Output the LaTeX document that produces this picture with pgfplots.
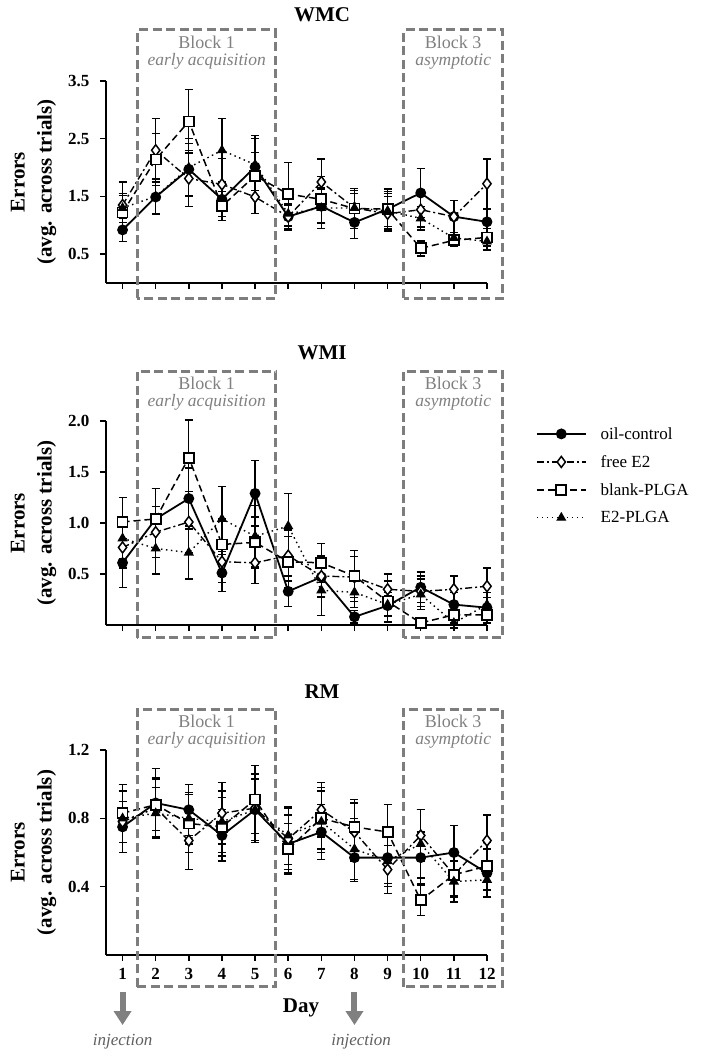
\documentclass[border=0pt]{standalone}
\usepackage{pgfplots}
\pgfplotsset{compat=1.18}
\usepackage{pgfplotstable}
\usepackage{fontspec}
\setmainfont{Liberation Serif}
\usetikzlibrary{arrows.meta}

\definecolor{boxgray}{RGB}{125,125,125}
\definecolor{txtgray}{RGB}{128,128,128}
\definecolor{injgray}{RGB}{95,95,95}

\pgfplotstableread{
day oil oilE fe feE bp bpE ep epE
1 0.92 0.20 1.35 0.40 1.22 0.30 1.30 0.25
2 1.49 0.30 2.30 0.55 2.14 0.45 1.50 0.30
3 1.97 0.45 1.81 0.48 2.80 0.55 2.00 0.50
4 1.45 0.30 1.71 0.45 1.33 0.25 2.30 0.55
5 2.01 0.55 1.49 0.28 1.86 0.40 2.05 0.45
6 1.15 0.23 1.15 0.20 1.54 0.55 1.20 0.25
7 1.33 0.30 1.75 0.40 1.45 0.40 1.30 0.35
8 1.05 0.28 1.30 0.25 1.29 0.35 1.30 0.30
9 1.28 0.30 1.20 0.30 1.28 0.35 1.25 0.30
10 1.56 0.42 1.27 0.30 0.60 0.13 1.12 0.20
11 1.15 0.28 1.15 0.28 0.74 0.10 0.78 0.10
12 1.06 0.22 1.72 0.43 0.79 0.15 0.72 0.15
}\wmctab

\pgfplotstableread{
day oil oilE fe feE bp bpE ep epE
1 0.61 0.24 0.76 0.20 1.01 0.24 0.85 0.20
2 1.04 0.30 0.91 0.25 1.04 0.30 0.75 0.25
3 1.24 0.30 1.01 0.30 1.64 0.37 0.71 0.26
4 0.51 0.18 0.62 0.20 0.79 0.25 1.04 0.32
5 1.29 0.32 0.61 0.20 0.81 0.25 0.87 0.30
6 0.33 0.15 0.68 0.25 0.62 0.25 0.97 0.32
7 0.47 0.20 0.48 0.20 0.61 0.19 0.34 0.25
8 0.08 0.06 0.47 0.20 0.48 0.25 0.32 0.15
9 0.19 0.10 0.35 0.15 0.23 0.20 0.20 0.12
10 0.37 0.15 0.33 0.15 0.02 0.03 0.30 0.15
11 0.20 0.12 0.35 0.13 0.10 0.08 0.02 0.05
12 0.17 0.10 0.38 0.18 0.10 0.08 0.20 0.12
}\wmitab

\pgfplotstableread{
day oil oilE fe feE bp bpE ep epE
1 0.75 0.15 0.78 0.18 0.83 0.17 0.80 0.20
2 0.89 0.20 0.86 0.18 0.88 0.15 0.83 0.15
3 0.85 0.15 0.67 0.17 0.77 0.17 0.80 0.15
4 0.70 0.15 0.83 0.18 0.75 0.17 0.78 0.18
5 0.85 0.18 0.86 0.20 0.91 0.20 0.85 0.18
6 0.65 0.17 0.68 0.18 0.62 0.15 0.70 0.17
7 0.72 0.16 0.85 0.16 0.80 0.18 0.78 0.18
8 0.57 0.14 0.72 0.17 0.75 0.16 0.62 0.18
9 0.57 0.15 0.50 0.14 0.72 0.16 0.55 0.15
10 0.57 0.15 0.70 0.15 0.32 0.09 0.65 0.20
11 0.60 0.16 0.47 0.13 0.47 0.12 0.43 0.12
12 0.48 0.14 0.67 0.15 0.52 0.14 0.44 0.10
}\rmtab

\tikzset{
  blk/.style={boxgray, line width=3pt, dash pattern=on 9pt off 4.5pt},
  btxt/.style={txtgray, align=center, anchor=north, inner sep=0pt,
    font=\fontsize{18}{17}\selectfont},
}
\newcommand{\blocktext}[2]{#1\\{\fontsize{17.5}{17}\itshape #2}}

\pgfplotsset{
  every axis title shift=0pt,
  panel/.style={
    scale only axis, width=381pt,
    xmin=0.5, xmax=12, ymin=0,
    axis x line*=bottom, axis y line*=left,
    xtick={1,...,12},
    tick align=outside, major tick length=6pt,
    tick style={line width=1.5pt, black},
    axis line style={line width=1.5pt},
    clip=false,
    /pgf/number format/assume math mode=true,
    tick label style={font=\bfseries\fontsize{17}{17}\selectfont},
    yticklabel style={xshift=-7pt, /pgf/number format/.cd, fixed, fixed zerofill, precision=1},
    xticklabel style={yshift=-4pt},
    title style={font=\bfseries\fontsize{21}{21}\selectfont, anchor=center, yshift=0pt},
    ylabel={Errors\\(avg. across trials)},
    ylabel style={font=\bfseries\fontsize{21}{27}\selectfont, align=center,
      at={(axis description cs:-0.19,0.5)}, anchor=center},
  },
  eb/.style={error bars/.cd, y dir=both, y explicit,
    error bar style={line width=1.3pt, solid, black},
    error mark options={rotate=90, line width=1.3pt, mark size=4pt, solid, black}},
  oil/.style={black, solid, line width=1.8pt, mark=*, mark size=4.5pt,
    mark options={solid, fill=black}},
  fe/.style={black, line width=1.4pt, dash pattern=on 7pt off 3pt on 2pt off 3pt,
    mark=diamond*, mark size=5.5pt, mark options={solid, fill=white, line width=1.5pt}},
  bp/.style={black, line width=1.5pt, dash pattern=on 7pt off 4pt,
    mark=square*, mark size=5pt, mark options={solid, fill=white, line width=1.8pt}},
  ep/.style={black, line width=1.4pt, dash pattern=on 1.5pt off 3.5pt,
    mark=triangle*, mark size=4.5pt, mark options={solid, fill=black}},
}

\begin{document}
\begin{tikzpicture}
\useasboundingbox (0,0) rectangle (702pt,-1059pt);

% ---------------- WMC ----------------
\begin{axis}[panel, at={(106pt,-283pt)}, anchor=south west, height=202pt,
  ymax=3.5, ytick={0.5,1.5,2.5,3.5}, xticklabels={},
  title={WMC}, title style={at={(axis description cs:0.567,1.327)}}]
\addplot[oil, eb] table[x=day, y=oil, y error=oilE] {\wmctab};
\addplot[fe, eb] table[x=day, y=fe, y error=feE] {\wmctab};
\addplot[bp, eb] table[x=day, y=bp, y error=bpE] {\wmctab};
\addplot[ep, eb] table[x=day, y=ep, y error=epE] {\wmctab};
\draw[blk] (axis cs:1.45,-0.26) rectangle (axis cs:5.62,4.384);
\draw[blk] (axis cs:9.49,-0.26) rectangle (axis cs:12.48,4.384);
\node[btxt, yshift=-6pt] at (axis cs:3.54,4.384) {\blocktext{Block 1}{early acquisition}};
\node[btxt, yshift=-6pt] at (axis cs:10.98,4.384) {\blocktext{Block 3}{asymptotic}};
\end{axis}

% ---------------- WMI ----------------
\begin{axis}[panel, at={(106pt,-625pt)}, anchor=south west, height=204pt,
  ymax=2.0, ytick={0.5,1.0,1.5,2.0}, xticklabels={},
  title={WMI}, title style={at={(axis description cs:0.567,1.333)}},
  legend style={at={(axis description cs:1.12,0.99)}, anchor=north west,
    draw=none, fill=none, font=\fontsize{17}{17}\selectfont,
    row sep=10.7pt, /tikz/every odd column/.append style={column sep=12pt}},
  legend cell align=left,
  legend image code/.code={\draw[mark repeat=2, mark phase=2, #1] plot coordinates {(0pt,0pt) (24.5pt,0pt) (49pt,0pt)};}]
\addplot[oil, eb] table[x=day, y=oil, y error=oilE] {\wmitab};
\addplot[fe, eb] table[x=day, y=fe, y error=feE] {\wmitab};
\addplot[bp, eb] table[x=day, y=bp, y error=bpE] {\wmitab};
\addplot[ep, eb] table[x=day, y=ep, y error=epE] {\wmitab};
\legend{oil-control, free E2, blank-PLGA, E2-PLGA}
\draw[blk] (axis cs:1.45,-0.127) rectangle (axis cs:5.62,2.49);
\draw[blk] (axis cs:9.49,-0.127) rectangle (axis cs:12.48,2.49);
\node[btxt, yshift=-6pt] at (axis cs:3.54,2.49) {\blocktext{Block 1}{early acquisition}};
\node[btxt, yshift=-6pt] at (axis cs:10.98,2.49) {\blocktext{Block 3}{asymptotic}};
\end{axis}

% ---------------- RM ----------------
\begin{axis}[panel, at={(106pt,-955pt)}, anchor=south west, height=205pt,
  ymax=1.2, ytick={0.4,0.8,1.2},
  xlabel={Day}, xlabel style={font=\bfseries\fontsize{21}{21}\selectfont,
    at={(axis description cs:0.512,-0.26)}, anchor=center},
  title={RM}, title style={at={(axis description cs:0.567,1.283)}}]
\addplot[oil, eb] table[x=day, y=oil, y error=oilE] {\rmtab};
\addplot[fe, eb] table[x=day, y=fe, y error=feE] {\rmtab};
\addplot[bp, eb] table[x=day, y=bp, y error=bpE] {\rmtab};
\addplot[ep, eb] table[x=day, y=ep, y error=epE] {\rmtab};
\draw[blk] (axis cs:1.45,-0.187) rectangle (axis cs:5.62,1.44);
\draw[blk] (axis cs:9.49,-0.187) rectangle (axis cs:12.48,1.44);
\node[btxt, yshift=-6pt] at (axis cs:3.54,1.44) {\blocktext{Block 1}{early acquisition}};
\node[btxt, yshift=-6pt] at (axis cs:10.98,1.44) {\blocktext{Block 3}{asymptotic}};
\draw[-{Triangle[width=17pt,length=14pt]}, line width=6pt, txtgray]
  (axis cs:1,-0.215) -- (axis cs:1,-0.41);
\draw[-{Triangle[width=17pt,length=14pt]}, line width=6pt, txtgray]
  (axis cs:8,-0.215) -- (axis cs:8,-0.41);
\node[injgray, font=\itshape\fontsize{17}{17}\selectfont] at (axis cs:1,-0.51) {injection};
\node[injgray, font=\itshape\fontsize{17}{17}\selectfont] at (axis cs:8.2,-0.51) {injection};
\end{axis}
\end{tikzpicture}
\end{document}
